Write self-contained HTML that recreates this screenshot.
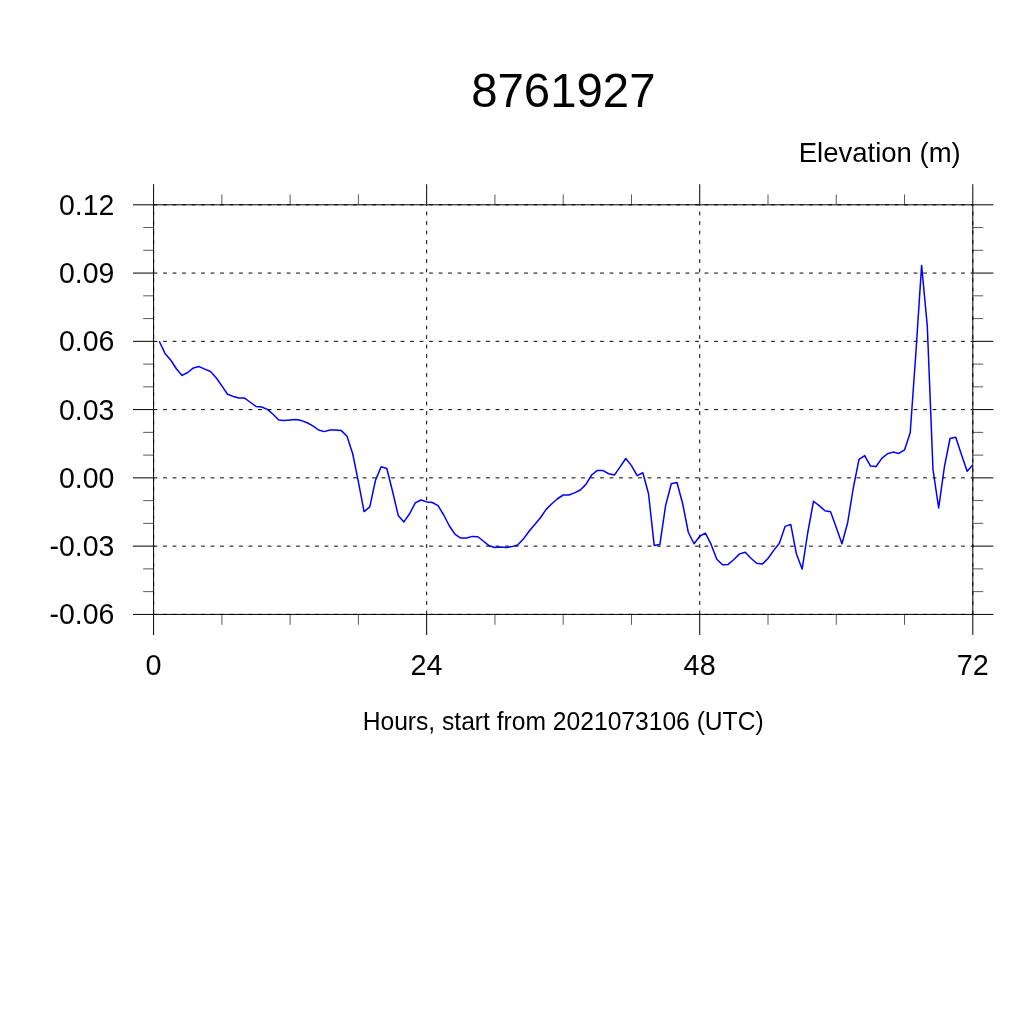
<!DOCTYPE html>
<html><head><meta charset="utf-8"><title>8761927</title>
<style>
html,body{margin:0;padding:0;background:#fff;}
body{width:1024px;height:1024px;overflow:hidden;}
svg{display:block;}
text{font-family:"Liberation Sans",Arial,Helvetica,sans-serif;fill:#000;}
</style></head><body>
<svg width="1024" height="1024" viewBox="0 0 1024 1024">
<rect x="0" y="0" width="1024" height="1024" fill="#fff"/>

<clipPath id="c"><rect x="153.6" y="204.8" width="819.8" height="409.6"/></clipPath>
<polyline clip-path="url(#c)" points="159.29,341.25 164.98,353.40 170.67,360.00 176.36,368.75 182.04,375.40 187.73,372.50 193.42,367.90 199.11,366.60 204.80,369.10 210.49,371.50 216.18,377.75 221.87,385.90 227.56,394.25 233.24,396.40 238.93,397.90 244.62,398.10 250.31,402.25 256.00,406.50 261.69,407.00 267.38,409.40 273.07,414.30 278.76,420.00 284.44,420.40 290.13,420.00 295.82,419.60 301.51,420.60 307.20,422.75 312.89,425.90 318.58,430.00 324.27,431.60 329.96,430.00 335.64,430.10 341.33,430.60 347.02,436.25 352.71,453.75 358.40,481.90 364.09,511.60 369.78,506.90 375.47,480.40 381.16,466.70 386.84,468.50 392.53,491.25 398.22,515.40 403.91,521.90 409.60,513.75 415.29,502.90 420.98,500.00 426.67,501.90 432.36,502.50 438.04,505.60 443.73,515.00 449.42,526.00 455.11,534.40 460.80,538.10 466.49,538.00 472.18,536.40 477.87,536.75 483.56,541.25 489.24,545.80 494.93,547.50 500.62,546.90 506.31,547.45 512.00,546.60 517.69,545.00 523.38,539.10 529.07,531.25 534.76,524.40 540.44,517.75 546.13,509.40 551.82,503.75 557.51,498.75 563.20,495.00 568.89,495.00 574.58,492.90 580.27,490.00 585.96,484.40 591.64,475.00 597.33,470.40 603.02,470.60 608.71,473.75 614.40,475.10 620.09,466.90 625.78,458.50 631.47,465.60 637.16,475.60 642.84,472.75 648.53,493.75 654.22,545.40 659.91,544.40 665.60,505.60 671.29,483.75 676.98,482.50 682.67,503.75 688.36,532.50 694.04,543.75 699.73,536.25 705.42,533.10 711.11,544.40 716.80,559.25 722.49,564.70 728.18,564.40 733.87,559.50 739.56,553.90 745.24,552.25 750.93,558.25 756.62,563.25 762.31,564.10 768.00,558.50 773.69,550.40 779.38,543.25 785.07,526.40 790.76,524.40 796.44,554.10 802.13,569.10 807.82,532.25 813.51,501.25 819.20,505.60 824.89,510.75 830.58,511.70 836.27,527.50 841.96,543.70 847.64,522.75 853.33,487.75 859.02,459.40 864.71,455.60 870.40,465.90 876.09,466.50 881.78,458.40 887.47,453.75 893.16,452.10 898.84,453.40 904.53,449.90 910.22,432.75 915.91,352.50 921.60,265.40 927.29,326.00 932.98,469.30 938.67,508.00 944.36,467.20 950.04,438.50 955.73,437.20 961.42,454.40 967.11,471.20 972.80,464.90" fill="none" stroke="#0000ff" stroke-width="1.5" stroke-linejoin="round"/>
<g stroke="#000" stroke-width="1" stroke-dasharray="3.8 5.7" fill="none">
<line x1="153.6" y1="204.80" x2="972.8" y2="204.80"/>
<line x1="153.6" y1="273.07" x2="972.8" y2="273.07"/>
<line x1="153.6" y1="341.33" x2="972.8" y2="341.33"/>
<line x1="153.6" y1="409.60" x2="972.8" y2="409.60"/>
<line x1="153.6" y1="477.87" x2="972.8" y2="477.87"/>
<line x1="153.6" y1="546.13" x2="972.8" y2="546.13"/>
<line x1="153.6" y1="614.40" x2="972.8" y2="614.40"/>
<line x1="153.60" y1="614.4" x2="153.60" y2="204.8"/>
<line x1="426.67" y1="614.4" x2="426.67" y2="204.8"/>
<line x1="699.73" y1="614.4" x2="699.73" y2="204.8"/>
<line x1="972.80" y1="614.4" x2="972.80" y2="204.8"/>
</g>
<rect x="153.6" y="204.8" width="819.2" height="409.6" fill="none" stroke="#000" stroke-width="1"/>
<g stroke="#000" stroke-width="1">
<line x1="133.00" y1="204.80" x2="153.6" y2="204.80"/>
<line x1="972.8" y1="204.80" x2="993.40" y2="204.80"/>
<line x1="133.00" y1="273.07" x2="153.6" y2="273.07"/>
<line x1="972.8" y1="273.07" x2="993.40" y2="273.07"/>
<line x1="133.00" y1="341.33" x2="153.6" y2="341.33"/>
<line x1="972.8" y1="341.33" x2="993.40" y2="341.33"/>
<line x1="133.00" y1="409.60" x2="153.6" y2="409.60"/>
<line x1="972.8" y1="409.60" x2="993.40" y2="409.60"/>
<line x1="133.00" y1="477.87" x2="153.6" y2="477.87"/>
<line x1="972.8" y1="477.87" x2="993.40" y2="477.87"/>
<line x1="133.00" y1="546.13" x2="153.6" y2="546.13"/>
<line x1="972.8" y1="546.13" x2="993.40" y2="546.13"/>
<line x1="133.00" y1="614.40" x2="153.6" y2="614.40"/>
<line x1="972.8" y1="614.40" x2="993.40" y2="614.40"/>
<line x1="153.60" y1="184.20" x2="153.60" y2="204.8"/>
<line x1="153.60" y1="614.4" x2="153.60" y2="635.00"/>
<line x1="426.67" y1="184.20" x2="426.67" y2="204.8"/>
<line x1="426.67" y1="614.4" x2="426.67" y2="635.00"/>
<line x1="699.73" y1="184.20" x2="699.73" y2="204.8"/>
<line x1="699.73" y1="614.4" x2="699.73" y2="635.00"/>
<line x1="972.80" y1="184.20" x2="972.80" y2="204.8"/>
<line x1="972.80" y1="614.4" x2="972.80" y2="635.00"/>
</g>
<g stroke="#000" stroke-width="0.65">
<line x1="143.20" y1="227.56" x2="153.6" y2="227.56"/>
<line x1="972.8" y1="227.56" x2="983.20" y2="227.56"/>
<line x1="143.20" y1="250.31" x2="153.6" y2="250.31"/>
<line x1="972.8" y1="250.31" x2="983.20" y2="250.31"/>
<line x1="143.20" y1="295.82" x2="153.6" y2="295.82"/>
<line x1="972.8" y1="295.82" x2="983.20" y2="295.82"/>
<line x1="143.20" y1="318.58" x2="153.6" y2="318.58"/>
<line x1="972.8" y1="318.58" x2="983.20" y2="318.58"/>
<line x1="143.20" y1="364.09" x2="153.6" y2="364.09"/>
<line x1="972.8" y1="364.09" x2="983.20" y2="364.09"/>
<line x1="143.20" y1="386.84" x2="153.6" y2="386.84"/>
<line x1="972.8" y1="386.84" x2="983.20" y2="386.84"/>
<line x1="143.20" y1="432.36" x2="153.6" y2="432.36"/>
<line x1="972.8" y1="432.36" x2="983.20" y2="432.36"/>
<line x1="143.20" y1="455.11" x2="153.6" y2="455.11"/>
<line x1="972.8" y1="455.11" x2="983.20" y2="455.11"/>
<line x1="143.20" y1="500.62" x2="153.6" y2="500.62"/>
<line x1="972.8" y1="500.62" x2="983.20" y2="500.62"/>
<line x1="143.20" y1="523.38" x2="153.6" y2="523.38"/>
<line x1="972.8" y1="523.38" x2="983.20" y2="523.38"/>
<line x1="143.20" y1="568.89" x2="153.6" y2="568.89"/>
<line x1="972.8" y1="568.89" x2="983.20" y2="568.89"/>
<line x1="143.20" y1="591.64" x2="153.6" y2="591.64"/>
<line x1="972.8" y1="591.64" x2="983.20" y2="591.64"/>
<line x1="221.87" y1="194.40" x2="221.87" y2="204.8"/>
<line x1="221.87" y1="614.4" x2="221.87" y2="624.80"/>
<line x1="290.13" y1="194.40" x2="290.13" y2="204.8"/>
<line x1="290.13" y1="614.4" x2="290.13" y2="624.80"/>
<line x1="358.40" y1="194.40" x2="358.40" y2="204.8"/>
<line x1="358.40" y1="614.4" x2="358.40" y2="624.80"/>
<line x1="494.93" y1="194.40" x2="494.93" y2="204.8"/>
<line x1="494.93" y1="614.4" x2="494.93" y2="624.80"/>
<line x1="563.20" y1="194.40" x2="563.20" y2="204.8"/>
<line x1="563.20" y1="614.4" x2="563.20" y2="624.80"/>
<line x1="631.47" y1="194.40" x2="631.47" y2="204.8"/>
<line x1="631.47" y1="614.4" x2="631.47" y2="624.80"/>
<line x1="768.00" y1="194.40" x2="768.00" y2="204.8"/>
<line x1="768.00" y1="614.4" x2="768.00" y2="624.80"/>
<line x1="836.27" y1="194.40" x2="836.27" y2="204.8"/>
<line x1="836.27" y1="614.4" x2="836.27" y2="624.80"/>
<line x1="904.53" y1="194.40" x2="904.53" y2="204.8"/>
<line x1="904.53" y1="614.4" x2="904.53" y2="624.80"/>
</g>
<g opacity="0.999">
<text transform="translate(114.40,214.80) scale(0.978,1)" font-size="29.09" text-anchor="end">0.12</text>
<text transform="translate(114.40,283.07) scale(0.978,1)" font-size="29.09" text-anchor="end">0.09</text>
<text transform="translate(114.40,351.33) scale(0.978,1)" font-size="29.09" text-anchor="end">0.06</text>
<text transform="translate(114.40,419.60) scale(0.978,1)" font-size="29.09" text-anchor="end">0.03</text>
<text transform="translate(114.40,487.87) scale(0.978,1)" font-size="29.09" text-anchor="end">0.00</text>
<text transform="translate(114.40,556.13) scale(0.978,1)" font-size="29.09" text-anchor="end">-0.03</text>
<text transform="translate(114.40,624.40) scale(0.978,1)" font-size="29.09" text-anchor="end">-0.06</text>
<text transform="translate(153.50,675.20) scale(0.99,1)" font-size="29.09" text-anchor="middle">0</text>
<text transform="translate(426.57,675.20) scale(0.99,1)" font-size="29.09" text-anchor="middle">24</text>
<text transform="translate(699.63,675.20) scale(0.99,1)" font-size="29.09" text-anchor="middle">48</text>
<text transform="translate(972.70,675.20) scale(0.99,1)" font-size="29.09" text-anchor="middle">72</text>
<text transform="translate(563.30,107.40) scale(0.97,1)" font-size="48.83" text-anchor="middle">8761927</text>
<text transform="translate(960.70,162.00) scale(0.973,1)" font-size="28.27" text-anchor="end">Elevation (m)</text>
<text transform="translate(563.15,729.80) scale(0.973,1)" font-size="25.32" text-anchor="middle">Hours, start from 2021073106 (UTC)</text>
</g>
</svg></body></html>
